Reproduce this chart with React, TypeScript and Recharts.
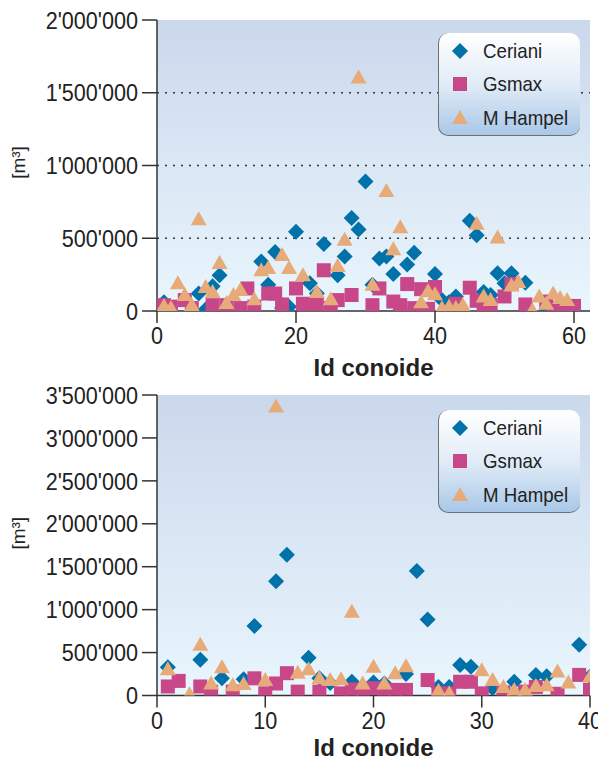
import React from "react";
import { ScatterChart, Scatter, XAxis, YAxis, CartesianGrid, ReferenceLine, Legend } from "recharts";

const FONT = "'Liberation Sans', Arial, sans-serif";
const COL_CERIANI = "#0071a9";
const COL_GSMAX = "#c84789";
const COL_HAMPEL = "#e7ab7a";

// values in thousand m³, null = no visible point
const TOP_IDS = [1,2,3,4,5,6,7,8,9,10,11,12,13,14,15,16,17,18,19,20,21,22,23,24,25,26,27,28,29,30,31,32,33,34,35,36,37,38,39,40,41,42,43,44,45,46,47,48,49,50,51,52,53,54,55,56,57,58,59,60,61];
const TOP_CERIANI = [60,null,null,null,null,120,10,170,245,null, null,null,null,null,340,180,405,20,30,545, null,190,120,460,null,245,375,640,560,890, 180,360,375,255,5,320,400,null,null,255, 75,60,100,null,620,520,130,110,260,190, 260,null,195,null,null,0,null,null,null,0,null];
const TOP_GSMAX = [40,30,null,75,20,null,null,40,null,40, null,20,155,30,null,120,120,45,null,155, 50,null,50,280,20,75,null,110,null,null, 40,155,null,65,40,185,20,150,15,165, null,null,50,null,160,70,30,40,null,100, 185,null,45,null,null,65,10,20,null,35,null];
const TOP_HAMPEL = [35,20,190,110,40,630,165,130,330,55, 110,145,null,80,280,295,null,385,295,null, 245,null,130,null,80,310,490,null,1605,null, 180,null,825,425,575,null,null,60,135,115, 20,30,20,40,null,600,100,75,505,null, 175,200,null,5,100,50,120,90,75,null,null];

const BOT_IDS = [1,2,3,4,5,6,7,8,9,10,11,12,13,14,15,16,17,18,19,20,21,22,23,24,25,26,27,28,29,30,31,32,33,34,35,36,37,38,39,40];
const BOT_CERIANI = [330,null,null,415,null,200,null,190,810,null, 1330,1640,null,440,200,145,null,160,null,150, 140,null,250,1450,885,100,100,355,335,null, 85,null,160,null,240,225,null,null,590,220];
const BOT_GSMAX = [105,170,null,105,45,null,45,null,200,25, 140,260,45,null,45,null,25,70,65,85, 45,65,65,null,180,25,25,160,160,25, null,35,null,45,100,null,20,null,240,65];
const BOT_HAMPEL = [305,null,15,590,140,330,120,135,null,180, 3365,null,265,305,200,180,190,975,140,335, 140,260,340,null,null,55,25,null,null,295, 180,100,65,65,110,120,280,150,null,220];

const TOP_Y_TICKS = [0, 500000, 1000000, 1500000, 2000000];
const TOP_GRID = [500000, 1000000, 1500000];
const TOP_X_TICKS = [0, 20, 40, 60];
const BOT_Y_TICKS = [0, 500000, 1000000, 1500000, 2000000, 2500000, 3000000, 3500000];
const BOT_X_TICKS = [0, 10, 20, 30, 40];

const toPoints = (ids: number[], vals: (number | null)[]) =>
  ids.map((id, i) => ({ x: id, y: vals[i] == null ? null : (vals[i] as number) * 1000 })).filter((p) => p.y !== null);

const fmt = (v: number) => String(v).replace(/\B(?=(\d{3})+(?!\d))/g, "'");

const Diamond = ({ cx, cy, fill }: any) => (
  <polygon points={`${cx},${cy - 8} ${cx + 8},${cy} ${cx},${cy + 8} ${cx - 8},${cy}`} fill={fill} />
);
const Square = ({ cx, cy, fill }: any) => <rect x={cx - 7} y={cy - 7} width={14} height={14} fill={fill} />;
const Triangle = ({ cx, cy, fill }: any) => (
  <polygon points={`${cx},${cy - 8} ${cx + 8},${cy + 6} ${cx - 8},${cy + 6}`} fill={fill} />
);

const SERIES = [
  { name: "Ceriani", color: COL_CERIANI, Shape: Diamond },
  { name: "Gsmax", color: COL_GSMAX, Shape: Square },
  { name: "M Hampel", color: COL_HAMPEL, Shape: Triangle },
];

const LegendBox = () => (
  <div
    style={{
      width: 142,
      height: 103,
      boxSizing: "border-box",
      borderRadius: 10,
      borderLeft: "1.5px solid #707070",
      borderBottom: "1.5px solid #707070",
      background: "linear-gradient(#ffffff 0%, #e1ecf7 50%, #a9c8e8 100%)",
      fontFamily: FONT,
      fontSize: 21,
      color: "#222",
      paddingTop: 1,
    }}
  >
    {SERIES.map((s) => (
      <div key={s.name} style={{ display: "flex", alignItems: "center", height: 33.5 }}>
        <svg width={44} height={20} style={{ flex: "none" }}>
          <s.Shape cx={21} cy={10} fill={s.color} />
        </svg>
        <span style={{ display: "inline-block", transform: "scaleX(0.89)", transformOrigin: "left center", whiteSpace: "nowrap" }}>
          {s.name}
        </span>
      </div>
    ))}
  </div>
);

// condensed look of the original labels
const YTick = ({ x, y, payload }: any) => (
  <text transform={`translate(${x},${y}) scale(0.9,1)`} textAnchor="end" dy="0.36em"
    fontFamily={FONT} fontSize={24} fill="#222">
    {fmt(payload.value)}
  </text>
);
const XTick = ({ x, y, payload }: any) => (
  <text transform={`translate(${x},${y}) scale(0.9,1)`} textAnchor="middle" dy="0.71em"
    fontFamily={FONT} fontSize={24} fill="#222">
    {payload.value}
  </text>
);

const yLabel = (dy: number) => ({ viewBox }: any) => {
  const x = 18;
  const y = viewBox.y + viewBox.height / 2 + dy;
  return (
    <text x={x} y={y} transform={`rotate(-90 ${x} ${y})`} textAnchor="middle" dominantBaseline="central"
      fontFamily={FONT} fontSize={19} fill="#222">
      [m³]
    </text>
  );
};

const xLabel = ({ viewBox }: any) => (
  <text x={viewBox.x + viewBox.width / 2} y={viewBox.y + viewBox.height - 4} textAnchor="middle"
    fontFamily={FONT} fontWeight="bold" fontSize={24} fill="#222">
    Id conoide
  </text>
);

const axisLine = { stroke: "#333", strokeWidth: 1.5 };

function Panel({ id, ids, cer, gs, ham, yMax, yTicks, xMax, xTicks, grid, top, bottomSpace, labelDy, legendTop }: any) {
  return (
    <ScatterChart width={598} height={380} margin={{ top, right: 8, bottom: 0, left: 0 }}>
      <defs>
        <linearGradient id={id} x1="0" y1="0" x2="0" y2="1">
          <stop offset="0%" stopColor="#cbd8ec" />
          <stop offset="100%" stopColor="#e9f6fd" />
        </linearGradient>
      </defs>
      <CartesianGrid horizontal={false} vertical={false} fill={`url(#${id})`} stroke="none" />
      <XAxis type="number" dataKey="x" domain={[0, xMax]} ticks={xTicks} height={bottomSpace}
        tickSize={12} tickMargin={4} axisLine={axisLine} tickLine={axisLine} tick={<XTick />}
        label={{ content: xLabel }} allowDataOverflow />
      <YAxis type="number" dataKey="y" domain={[0, yMax]} ticks={yTicks} width={157}
        tickSize={15} tickMargin={4} axisLine={axisLine} tickLine={axisLine} tick={<YTick />}
        label={{ content: yLabel(labelDy) }} allowDataOverflow />
      {grid.map((g: number) => (
        <ReferenceLine key={g} y={g} stroke="#333" strokeWidth={1.5} strokeDasharray="2 6" />
      ))}
      <Scatter name="Ceriani" data={toPoints(ids, cer)} fill={COL_CERIANI} isAnimationActive={false}
        shape={(p: any) => <Diamond {...p} fill={COL_CERIANI} />} />
      <Scatter name="Gsmax" data={toPoints(ids, gs)} fill={COL_GSMAX} isAnimationActive={false}
        shape={(p: any) => <Square {...p} fill={COL_GSMAX} />} />
      <Scatter name="M Hampel" data={toPoints(ids, ham)} fill={COL_HAMPEL} isAnimationActive={false}
        shape={(p: any) => <Triangle {...p} fill={COL_HAMPEL} />} />
      <Legend content={<LegendBox />} layout="vertical" align="center" verticalAlign="middle"
        wrapperStyle={{ left: 438, top: legendTop, width: 142 }} />
    </ScatterChart>
  );
}

export default function App() {
  return (
    <div style={{ position: "absolute", left: 0, top: 0, width: 598, height: 762, background: "#fff" }}>
      <Panel id="bgTop" ids={TOP_IDS} cer={TOP_CERIANI} gs={TOP_GSMAX} ham={TOP_HAMPEL}
        yMax={2000000} yTicks={TOP_Y_TICKS} xMax={62.3} xTicks={TOP_X_TICKS} grid={TOP_GRID}
        top={20} bottomSpace={69} labelDy={-3} legendTop={33} />
      <Panel id="bgBot" ids={BOT_IDS} cer={BOT_CERIANI} gs={BOT_GSMAX} ham={BOT_HAMPEL}
        yMax={3500000} yTicks={BOT_Y_TICKS} xMax={40} xTicks={BOT_X_TICKS} grid={[]}
        top={15} bottomSpace={64.5} labelDy={-12} legendTop={30} />
    </div>
  );
}
